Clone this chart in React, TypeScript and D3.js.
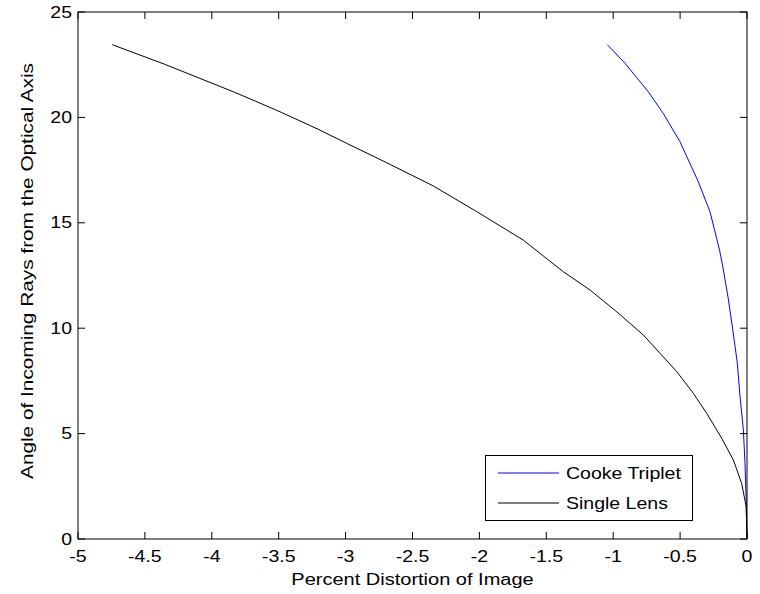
import React from "react";
import * as d3 from "d3";

const xTicks = [-5, -4.5, -4, -3.5, -3, -2.5, -2, -1.5, -1, -0.5, 0];
const yTicks = [0, 5, 10, 15, 20, 25];

const singleX = [-4.744, -4.352, -3.829, -3.655, -3.481, -3.206, -2.992, -2.693, -2.345, -2.02, -1.672, -1.547, -1.373, -1.173, -0.974, -0.775, -0.65, -0.525, -0.401, -0.301, -0.189, -0.102, -0.04, -0.006, 0];
const singleY = [23.45, 22.52, 21.19, 20.72, 20.24, 19.44, 18.77, 17.85, 16.75, 15.53, 14.18, 13.55, 12.68, 11.81, 10.78, 9.68, 8.81, 7.94, 6.91, 5.96, 4.78, 3.75, 2.64, 1.53, 0];

const cookeX = [-1.044, -0.912, -0.738, -0.626, -0.501, -0.364, -0.277, -0.24, -0.205, -0.18, -0.14, -0.11, -0.072, -0.052, -0.027, -0.015, -0.007, 0];
const cookeY = [23.45, 22.57, 21.22, 20.19, 18.85, 16.95, 15.53, 14.6, 13.7, 12.9, 11.4, 10.1, 8.33, 6.75, 5.17, 3.59, 2.01, 0];

const seriesNames = ["Cooke Triplet", "Single Lens"];
const seriesColors = ["#0000ff", "#000000"];

function T({ x, y, sx = 1.22, anchor = "start", rot = 0, children }: any) {
  return (
    <g transform={`translate(${x},${y}) rotate(${rot}) scale(${sx},1)`}>
      <text x={0} y={0} fontSize={16} textAnchor={anchor}>{children}</text>
    </g>
  );
}

export default function App() {
  const W = 760, H = 594;
  const L = 78, R = 747, Tp = 12, B = 539;
  const x = d3.scaleLinear().domain([-5, 0]).range([L, R]);
  const y = d3.scaleLinear().domain([0, 25]).range([B, Tp]);
  const line = d3.line<[number, number]>().x(d => x(d[0])).y(d => y(d[1]));
  const cooke = cookeX.map((v, i) => [v, cookeY[i]] as [number, number]);
  const single = singleX.map((v, i) => [v, singleY[i]] as [number, number]);
  const tl = 7;
  const font = "Liberation Sans, Arial, Helvetica, sans-serif";
  return (
    <svg width={W} height={H} style={{ position: "absolute", left: 0, top: 0 }} fontFamily={font}>
      <rect x={0} y={0} width={W} height={H} fill="#fff" />
      {xTicks.map(t => (
        <g key={"x" + t}>
          <line x1={x(t)} x2={x(t)} y1={B} y2={B - tl} stroke="#000" strokeWidth={1} />
          <line x1={x(t)} x2={x(t)} y1={Tp} y2={Tp + tl} stroke="#000" strokeWidth={1} />
          <T x={x(t)} y={562} anchor="middle">{t}</T>
        </g>
      ))}
      {yTicks.map(t => (
        <g key={"y" + t}>
          <line x1={L} x2={L + tl} y1={y(t)} y2={y(t)} stroke="#000" strokeWidth={1} />
          <line x1={R} x2={R - tl} y1={y(t)} y2={y(t)} stroke="#000" strokeWidth={1} />
          <T x={72} y={y(t) + 5.5} anchor="end">{t}</T>
        </g>
      ))}
      <path d={line(cooke) || ""} fill="none" stroke={seriesColors[0]} strokeWidth={1} />
      <path d={line(single) || ""} fill="none" stroke={seriesColors[1]} strokeWidth={1} />
      <rect x={L} y={Tp} width={R - L} height={B - Tp} fill="none" stroke="#000" strokeWidth={1} />
      <g>
        <rect x={485.5} y={455.5} width={207} height={65} fill="#fff" stroke="#000" strokeWidth={1} />
        {seriesNames.map((n, i) => (
          <g key={n}>
            <line x1={498} x2={559} y1={473 + i * 30} y2={473 + i * 30} stroke={seriesColors[i]} strokeWidth={1} />
            <T x={566} y={479 + i * 30}>{n}</T>
          </g>
        ))}
      </g>
      <T x={412.5} y={585} sx={1.25} anchor="middle">Percent Distortion of Image</T>
      <T x={33} y={271} sx={1.3} rot={-90} anchor="middle">Angle of Incoming Rays from the Optical Axis</T>
    </svg>
  );
}
